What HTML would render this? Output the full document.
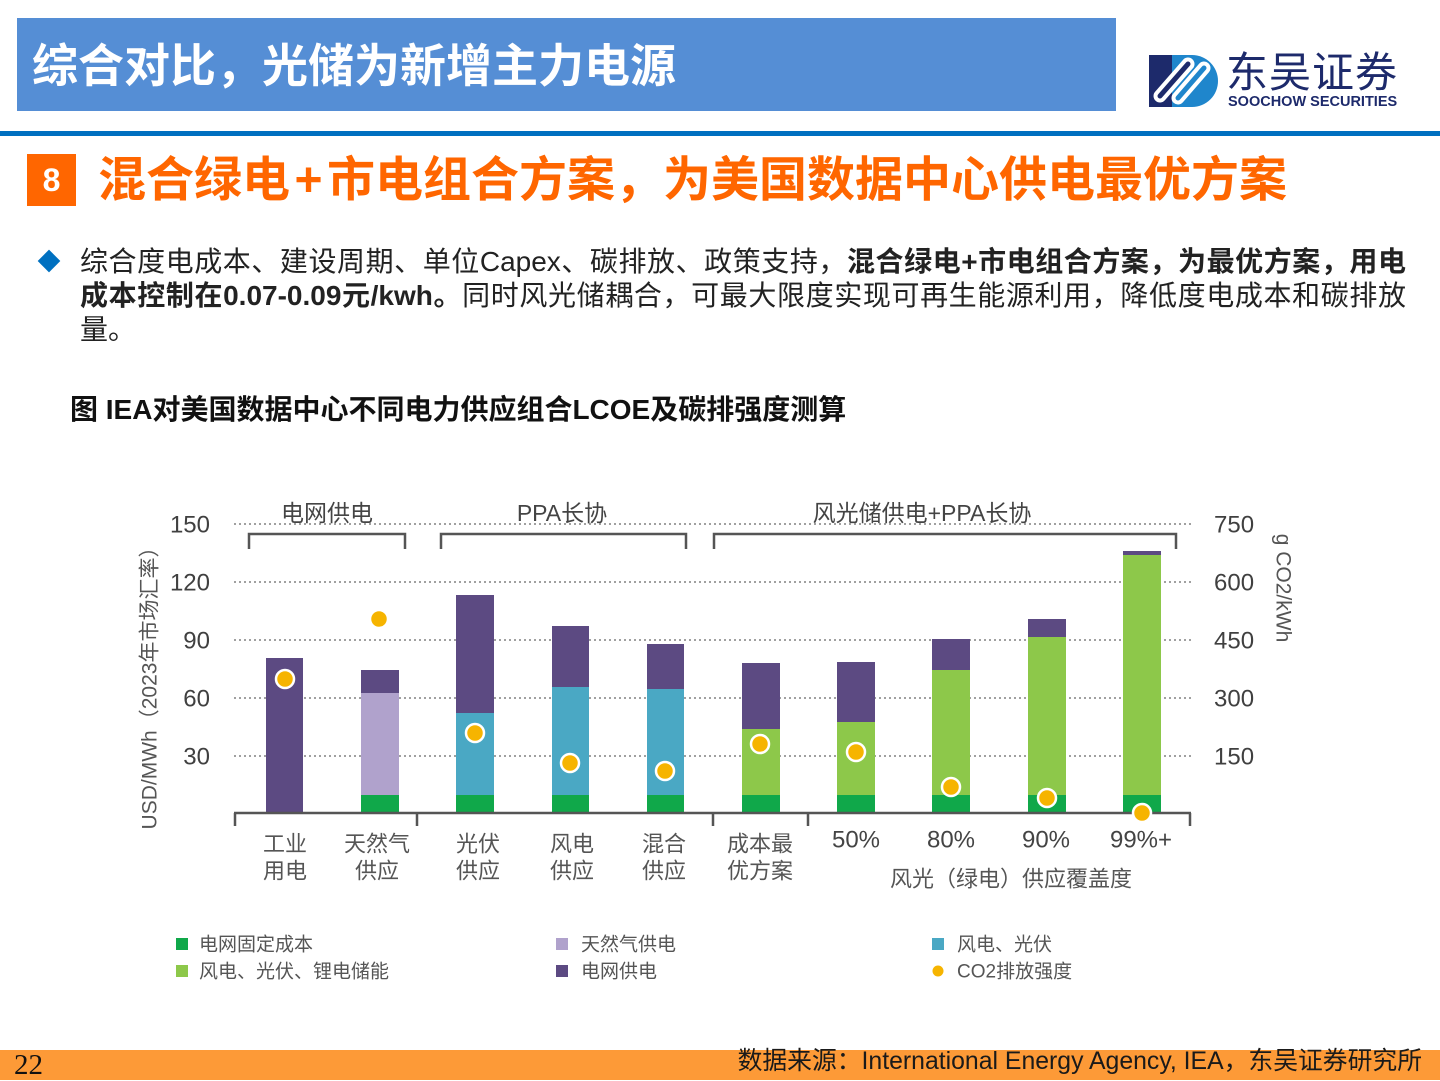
<!DOCTYPE html>
<html><head><meta charset="utf-8">
<style>
html,body{margin:0;padding:0;}
body{width:1440px;height:1080px;position:relative;overflow:hidden;background:#fff;font-family:"Liberation Sans","Noto Sans CJK SC",sans-serif;}
.abs{position:absolute;white-space:nowrap;}
.jl{text-align:justify;text-align-last:justify;white-space:normal;height:34px;overflow:hidden;}
b{font-weight:bold;}
</style></head><body>

<!-- header -->
<div class="abs" style="left:17px;top:18px;width:1099px;height:93px;background:#558ed5;"></div>
<div class="abs" style="left:32px;top:20px;height:93px;line-height:93px;color:#fff;font-size:46px;font-weight:bold;">综合对比，光储为新增主力电源</div>

<!-- logo -->
<svg class="abs" style="left:1145px;top:50px;" width="80" height="62" viewBox="1145 50 80 62">
  <rect x="1149" y="55" width="42" height="52" fill="#1d2a6b"/>
  <path d="M1172,55 H1192 A26,26 0 0 1 1192,107 H1172 Z" fill="#1f86cc"/>
  <path d="M1160,96 L1188,64" stroke="#fff" stroke-width="13" stroke-linecap="round"/>
  <path d="M1160,96 L1188,64" stroke="#1d2a6b" stroke-width="5" stroke-linecap="round"/>
  <path d="M1178,98 L1204,68" stroke="#fff" stroke-width="13" stroke-linecap="round"/>
  <path d="M1178,98 L1204,68" stroke="#1f86cc" stroke-width="5" stroke-linecap="round"/>
</svg>
<div class="abs" style="left:1226px;top:48px;font-size:42px;line-height:50px;color:#1d2a6b;letter-spacing:1px;">东吴证券</div>
<div class="abs" style="left:1228px;top:94px;font-size:14.5px;line-height:17px;color:#1d2a6b;font-weight:bold;letter-spacing:0px;">SOOCHOW SECURITIES</div>

<!-- blue line -->
<div class="abs" style="left:0;top:131px;width:1440px;height:5px;background:#0070c0;"></div>

<!-- section heading -->
<div class="abs" style="left:27px;top:154px;width:49px;height:52px;background:#ff6600;color:#fff;font-weight:bold;font-size:32px;line-height:52px;text-align:center;">8</div>
<div class="abs" style="left:98px;top:153px;font-size:48px;line-height:56px;font-weight:bold;color:#ff6600;">混合绿电<span style="display:inline-block;width:37px;text-align:center;">+</span>市电组合方案，为美国数据中心供电最优方案</div>

<!-- bullet -->
<div class="abs" style="left:41px;top:253px;width:16px;height:16px;background:#0070c0;transform:rotate(45deg);"></div>
<div class="abs" style="left:80px;top:245px;width:1326px;font-size:28px;line-height:34px;color:#222;white-space:normal;">
  <div class="jl">综合度电成本、建设周期、单位Capex、碳排放、政策支持，<b>混合绿电+市电组合方案，为最优方案，用电</b></div>
  <div class="jl"><b>成本控制在0.07-0.09元/kwh。</b>同时风光储耦合，可最大限度实现可再生能源利用，降低度电成本和碳排放</div>
  <div style="height:34px;">量。</div>
</div>

<!-- figure title -->
<div class="abs" style="left:70px;top:392px;font-size:28px;line-height:36px;font-weight:bold;color:#111;">图 IEA对美国数据中心不同电力供应组合LCOE及碳排强度测算</div>

<!-- chart -->
<svg class="abs" style="left:0;top:0;" width="1440" height="1080" viewBox="0 0 1440 1080" font-family="Liberation Sans, Noto Sans CJK SC, sans-serif">
  <g stroke="#a0a0a0" stroke-width="2" stroke-dasharray="2 3">
    <line x1="234" x2="1192" y1="524" y2="524"/>
    <line x1="234" x2="1192" y1="582" y2="582"/>
    <line x1="234" x2="1192" y1="640" y2="640"/>
    <line x1="234" x2="1192" y1="698" y2="698"/>
    <line x1="234" x2="1192" y1="756" y2="756"/>
  </g>
  <!-- left axis labels -->
  <g font-size="24" fill="#404040" text-anchor="end" dominant-baseline="central">
    <text x="210" y="525">150</text>
    <text x="210" y="583">120</text>
    <text x="210" y="641">90</text>
    <text x="210" y="699">60</text>
    <text x="210" y="757">30</text>
  </g>
  <g font-size="24" fill="#404040" text-anchor="start" dominant-baseline="central">
    <text x="1214" y="525">750</text>
    <text x="1214" y="583">600</text>
    <text x="1214" y="641">450</text>
    <text x="1214" y="699">300</text>
    <text x="1214" y="757">150</text>
  </g>
  <text transform="translate(150,683) rotate(-90)" font-size="21" fill="#555" text-anchor="middle" dominant-baseline="central">USD/MWh（2023年市场汇率）</text>
  <text transform="translate(1283,588) rotate(90)" font-size="21" fill="#555" text-anchor="middle" dominant-baseline="central">g CO2/kWh</text>

  <!-- group labels -->
  <g font-size="23" fill="#444" text-anchor="middle" dominant-baseline="central">
    <text x="327" y="513">电网供电</text>
    <text x="562" y="513">PPA长协</text>
    <text x="922" y="513">风光储供电+PPA长协</text>
  </g>
  <g fill="none" stroke="#555" stroke-width="2.5">
    <path d="M249,549 V534 H405 V549"/>
    <path d="M441,549 V534 H686 V549"/>
    <path d="M714,549 V534 H1176 V549"/>
  </g>

  <!-- bars -->
  <g>
    <rect x="266" y="658" width="37" height="155" fill="#5c4a82"/>

    <rect x="361" y="670" width="38" height="23" fill="#5c4a82"/>
    <rect x="361" y="693" width="38" height="102" fill="#b0a2cc"/>
    <rect x="361" y="795" width="38" height="18" fill="#10a84a"/>

    <rect x="456" y="595" width="38" height="118" fill="#5c4a82"/>
    <rect x="456" y="713" width="38" height="82" fill="#4aa8c4"/>
    <rect x="456" y="795" width="38" height="18" fill="#10a84a"/>

    <rect x="552" y="626" width="37" height="61" fill="#5c4a82"/>
    <rect x="552" y="687" width="37" height="108" fill="#4aa8c4"/>
    <rect x="552" y="795" width="37" height="18" fill="#10a84a"/>

    <rect x="647" y="644" width="37" height="45" fill="#5c4a82"/>
    <rect x="647" y="689" width="37" height="106" fill="#4aa8c4"/>
    <rect x="647" y="795" width="37" height="18" fill="#10a84a"/>

    <rect x="742" y="663" width="38" height="66" fill="#5c4a82"/>
    <rect x="742" y="729" width="38" height="66" fill="#8dc84a"/>
    <rect x="742" y="795" width="38" height="18" fill="#10a84a"/>

    <rect x="837" y="662" width="38" height="60" fill="#5c4a82"/>
    <rect x="837" y="722" width="38" height="73" fill="#8dc84a"/>
    <rect x="837" y="795" width="38" height="18" fill="#10a84a"/>

    <rect x="932" y="639" width="38" height="31" fill="#5c4a82"/>
    <rect x="932" y="670" width="38" height="125" fill="#8dc84a"/>
    <rect x="932" y="795" width="38" height="18" fill="#10a84a"/>

    <rect x="1028" y="619" width="38" height="18" fill="#5c4a82"/>
    <rect x="1028" y="637" width="38" height="158" fill="#8dc84a"/>
    <rect x="1028" y="795" width="38" height="18" fill="#10a84a"/>

    <rect x="1123" y="551" width="38" height="4" fill="#5c4a82"/>
    <rect x="1123" y="555" width="38" height="240" fill="#8dc84a"/>
    <rect x="1123" y="795" width="38" height="18" fill="#10a84a"/>
  </g>

  <!-- baseline -->
  <g stroke="#555" stroke-width="2.5" fill="none">
    <line x1="234" x2="1191" y1="813" y2="813"/>
    <line x1="235" x2="235" y1="813" y2="826"/>
    <line x1="417" x2="417" y1="813" y2="826"/>
    <line x1="713" x2="713" y1="813" y2="826"/>
    <line x1="808" x2="808" y1="813" y2="826"/>
    <line x1="1190" x2="1190" y1="813" y2="826"/>
  </g>

  <!-- CO2 dots -->
  <g fill="#f6b400" stroke="#fff" stroke-width="2.5">
    <circle cx="285" cy="679" r="9"/>
    <circle cx="379" cy="619" r="9"/>
    <circle cx="475" cy="733" r="9"/>
    <circle cx="570" cy="763" r="9"/>
    <circle cx="665" cy="771" r="9"/>
    <circle cx="760" cy="744" r="9"/>
    <circle cx="856" cy="752" r="9"/>
    <circle cx="951" cy="787" r="9"/>
    <circle cx="1047" cy="798" r="9"/>
    <circle cx="1142" cy="813" r="9"/>
  </g>

  <!-- category labels -->
  <g font-size="22" fill="#555" text-anchor="middle" dominant-baseline="central">
    <text x="285" y="844">工业</text><text x="285" y="871">用电</text>
    <text x="377" y="844">天然气</text><text x="377" y="871">供应</text>
    <text x="478" y="844">光伏</text><text x="478" y="871">供应</text>
    <text x="572" y="844">风电</text><text x="572" y="871">供应</text>
    <text x="664" y="844">混合</text><text x="664" y="871">供应</text>
    <text x="760" y="844">成本最</text><text x="760" y="871">优方案</text>
    <text x="1011" y="879">风光（绿电）供应覆盖度</text>
  </g>
  <g font-size="24" fill="#444" text-anchor="middle" dominant-baseline="central">
    <text x="856" y="840">50%</text>
    <text x="951" y="840">80%</text>
    <text x="1046" y="840">90%</text>
    <text x="1141" y="840">99%+</text>
  </g>

  <!-- legend -->
  <rect x="176" y="938" width="12" height="12" fill="#10a84a"/>
  <rect x="176" y="965" width="12" height="12" fill="#8dc84a"/>
  <rect x="556" y="938" width="12" height="12" fill="#b0a2cc"/>
  <rect x="556" y="965" width="12" height="12" fill="#5c4a82"/>
  <rect x="932" y="938" width="12" height="12" fill="#4aa8c4"/>
  <circle cx="938" cy="971" r="5.5" fill="#f6b400"/>
  <g font-size="19" fill="#555" dominant-baseline="central">
    <text x="199" y="945">电网固定成本</text>
    <text x="199" y="972">风电、光伏、锂电储能</text>
    <text x="581" y="945">天然气供电</text>
    <text x="581" y="972">电网供电</text>
    <text x="957" y="945">风电、光伏</text>
    <text x="957" y="972">CO2排放强度</text>
  </g>
</svg>

<!-- footer -->
<div class="abs" style="left:0;top:1050px;width:1440px;height:30px;background:#fd9a37;"></div>
<div class="abs" style="left:14px;top:1049px;font-family:'Liberation Serif',serif;font-size:29px;line-height:32px;color:#111;">22</div>
<div class="abs" style="right:18px;top:1047px;font-size:24.8px;line-height:30px;color:#1a1a1a;">数据来源：International Energy Agency, IEA，东吴证券研究所</div>

</body></html>
